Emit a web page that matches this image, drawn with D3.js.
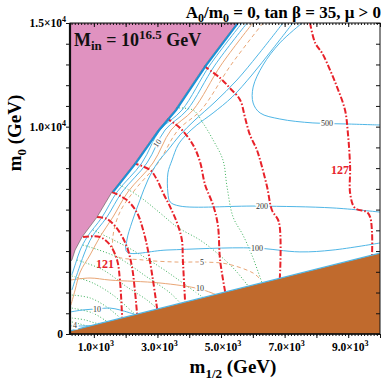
<!DOCTYPE html>
<html>
<head>
<meta charset="utf-8">
<script src="https://cdn.jsdelivr.net/npm/d3@7"></script>
<style>
body { margin: 0; background: #fff; }
svg { display: block; }
text { font-family: "Liberation Serif", "Times New Roman", serif; }
</style>
</head>
<body>
<svg id="chart" width="382" height="384"></svg>
<script>
// === Dane: (m1/2, m0) w GeV ===
const pinkEdge = [[5500,15000],[4500,12970],[3550,10800],[3020,9840],[2290,8250],[1570,6850],[1100,5640],[630,4680],[410,4050],[310,3570],[250,3470]];
const brownEdge = [[250,150],[10000,3900]];

// kontury mh (czerwone)
const mhA = [[660,4680],[1190,4680],[1510,4290],[1730,3570],[1820,2600],[1890,790]];
const mhB = [[1100,5640],[1410,5550],[1760,5020],[2040,4200],[2200,3230],[2290,2120],[2360,960]];
const mhC = [[1570,6850],[2040,6460],[2360,5840],[2550,5020],[2700,4050],[2860,2600],[2990,1210]];
const mhD = [[2230,8250],[2770,7910],[2990,7430],[3180,6800],[3400,6130],[3620,5350],[3770,4530],[3800,3570],[3870,1550]];
const mhE = [[3270,10420],[3710,9940],[4120,9120],[4340,8300],[4500,7190],[4750,6220],[4900,5260],[4970,3570],[5130,2030]];
const mhF = [[4460,12930],[4970,12350],[5280,11860],[5600,11290],[5750,10470],[5910,9600],[6130,8870],[6290,8050],[6450,7090],[6600,5980],[6820,5400],[6850,2700]];
const mhG = [[7800,15000],[7960,14040],[8180,13550],[8430,12730],[8650,11910],[8900,10800],[8990,9690],[9060,8050],[9060,6800],[9210,6080],[9590,5880],[9690,5640],[9750,4870],[9750,3810]];
const mhLabels = [["121",1350,3380],["127",8740,7910]];

// kontury niebieskie
const tau500 = [[7550,15000],[6850,14040],[6320,12970],[6010,11910],[6010,11140],[6230,10660],[6850,10370],[7890,10180],[8960,10130],[10000,10080]];
const tau200 = [[7260,15000],[6600,13700],[5970,12490],[5350,11430],[4750,10660],[4240,10080],[3900,9600],[3650,9120],[3460,8390],[3330,7770],[3330,6800],[3400,6370],[3710,6170],[6130,6170],[8520,6080],[10000,5880]];
const tau100 = [[6950,15000],[6160,13460],[5500,12250],[4810,11190],[4180,10320],[3710,9600],[3330,8870],[3020,8300],[2700,7430],[2450,6460],[2200,5400],[2040,4530],[2040,3960],[3300,4050],[6010,4150],[7480,3960],[8520,4050],[10000,4390]];
const tau10 = [[250,1060],[660,1160],[1100,1210],[1510,1250],[1820,1160],[2300,940]];
const tau4 = [[250,390],[720,390],[1100,430],[1290,550]];
const band1 = [[5660,15000],[4650,12970],[3770,10800],[3080,9840],[2510,8250],[1730,6850],[1260,5640],[790,4680],[570,4050],[440,3470],[310,2850]];
const band2 = [[5820,15000],[4810,12970],[3930,10800],[3240,9840],[2670,8250],[1890,6850],[1410,5640],[940,4680],[720,3960],[570,3330],[410,2600],[310,2120]];
const blueLabels = [["500",8330,10180],["200",6290,6170],["100",6130,4150],["10",1100,1210],["4",410,430]];

// kontury pomaranczowe
const orgSolid = [[6000,15000],[5000,12970],[4120,10800],[3430,9840],[2860,8250],[2070,6850],[1600,5640],[1190,4680],[880,3810],[570,2990],[410,2120],[280,1400]];
const orgTen = [[250,2600],[880,2700],[1510,2600],[3080,2460],[4340,2170],[4870,1880]];
const orgDash = [[6320,15000],[5310,12970],[4370,10800],[3650,9840],[3020,8250],[2290,6950],[1820,5880],[1600,4680],[1670,3810],[2550,3570],[3620,3470],[4400,3470],[5190,3380],[6010,2940],[6230,2650]];
const orangeLabels = [["5",4400,3470],["10",4340,2220]];

// kontury zielone (kropkowane)
const gA = [[310,580],[570,480],[820,370]];
const gB = [[310,770],[720,680],[1040,530],[1190,510]];
const gC = [[310,1250],[970,1010],[1410,600]];
const gD = [[310,1880],[880,1740],[1410,1300],[1840,760]];
const gE = [[310,2800],[970,2460],[1600,1880],[2300,940]];
const gF = [[470,3570],[1290,3090],[2040,2270],[2670,1640],[3000,1210]];
const gG = [[660,4290],[1730,3710],[2670,2750],[3400,1980],[3720,1490]];
const gH = [[970,5020],[2040,4200],[3080,3230],[3800,2460],[4440,1760]];
const gI = [[1820,7190],[2450,6610],[3080,5840],[3620,5160],[4340,4530],[4870,3910],[5440,3090],[5850,2320]];
const gJ = [[3490,10900],[4120,10800],[4430,10180],[4750,9360],[5060,8390],[5190,7090],[5380,5640],[5690,4770],[5970,3810],[6290,2460]];

// osie
const xTickVals = [1000,3000,5000,7000,9000];
const xTickText = ["1.0","3.0","5.0","7.0","9.0"];
const yTickVals = [0,10000,15000];
const yTickText = ["0","1.0","1.5"];

// === Rysowanie ===
const svg = d3.select("#chart");
const x = d3.scaleLinear().domain([250, 10000]).range([70, 380]);
const y = d3.scaleLinear().domain([0, 15000]).range([334, 23]);

svg.append("defs").append("clipPath").attr("id", "plot")
    .append("rect").attr("x", 70).attr("y", 23).attr("width", 310).attr("height", 311);

const plot = svg.append("g").attr("clip-path", "url(#plot)");
const smooth = d3.line().x(d => x(d[0])).y(d => y(d[1])).curve(d3.curveCatmullRom.alpha(0.5));
const straight = d3.line().x(d => x(d[0])).y(d => y(d[1]));

function draw(list, stroke, width, dash) {
    list.forEach(pts => {
        plot.append("path").attr("d", smooth(pts))
            .attr("fill", "none").attr("stroke", stroke)
            .attr("stroke-width", width).attr("stroke-dasharray", dash || null);
    });
}

draw([gA, gB, gC, gD, gE, gF, gG, gH, gI, gJ], "#3bb05a", 1, "1,2");
draw([orgSolid, orgTen], "#e9a676", 1);
draw([orgDash], "#e9a676", 1, "4,3");
draw([band1, band2, tau100, tau200, tau500, tau10, tau4], "#4fb6e6", 1);
draw([mhA, mhB, mhC, mhD, mhE, mhF, mhG], "#e8222a", 2, "6,2,1.5,2");

// obszary wykluczone
plot.append("path").attr("d", straight(pinkEdge.concat([[250,15000]])) + "Z")
    .attr("fill", "#e092c0").attr("stroke", "#555").attr("stroke-width", 0.6);
plot.append("path").attr("d", straight(brownEdge.concat([[10000,0],[250,0]])) + "Z")
    .attr("fill", "#c06a2d");
plot.append("path").attr("d", straight(brownEdge))
    .attr("fill", "none").attr("stroke", "#4fb6e6").attr("stroke-width", 1.2);
plot.append("path").attr("d", straight(pinkEdge.slice(0, 6)))
    .attr("transform", "translate(1.2,0)")
    .attr("fill", "none").attr("stroke", "#1b8fd6").attr("stroke-width", 2);

// etykiety konturow
function label(txt, px, py, color, size, weight) {
    return plot.append("text").attr("x", x(px)).attr("y", y(py) + size * 0.35)
        .attr("text-anchor", "middle").attr("font-size", size)
        .attr("font-weight", weight).attr("fill", color)
        .attr("stroke", "#fff").attr("stroke-width", 3).attr("paint-order", "stroke")
        .text(txt);
}
blueLabels.forEach(d => label(d[0], d[1], d[2], "#333", 8, "normal"));
orangeLabels.forEach(d => label(d[0], d[1], d[2], "#333", 8, "normal"));
label("10", 2990, 9210, "#333", 8, "normal")
    .attr("transform", `rotate(-55,${x(2990)},${y(9210)})`);
mhLabels.forEach(d => label(d[0], d[1], d[2], "#e8222a", 12, "bold").attr("stroke-width", 0));

// M_in
const mIn = svg.append("text").attr("x", 74).attr("y", 46)
    .attr("font-size", 18).attr("font-weight", "bold").attr("fill", "#111");
mIn.append("tspan").text("M");
mIn.append("tspan").attr("dy", 4).attr("font-size", 13).text("in");
mIn.append("tspan").attr("dy", -4).text(" = 10");
mIn.append("tspan").attr("dy", -7).attr("font-size", 13).text("16.5");
mIn.append("tspan").attr("dy", 7).text(" GeV");

// osie i ramka
const axes = svg.append("g");
const minorX = d3.range(300, 10001, 100);
const majorX = d3.range(1000, 10001, 1000);
const ticksY = d3.range(0, 15001, 1000);

function ax(gen, tr) {
    axes.append("g").attr("transform", tr).call(gen.tickFormat(""))
        .call(g => g.select(".domain").remove())
        .selectAll("line").attr("stroke", "#111");
}
ax(d3.axisBottom(x).tickValues(minorX).tickSize(2), "translate(0,334)");
ax(d3.axisBottom(x).tickValues(majorX).tickSize(4), "translate(0,334)");
ax(d3.axisTop(x).tickValues(minorX).tickSize(-2), "translate(0,23)");
ax(d3.axisTop(x).tickValues(majorX).tickSize(-4), "translate(0,23)");
ax(d3.axisLeft(y).tickValues(ticksY).tickSize(4), "translate(70,0)");
ax(d3.axisRight(y).tickValues(ticksY).tickSize(-4), "translate(380,0)");

axes.append("rect").attr("x", 70).attr("y", 23).attr("width", 310).attr("height", 311)
    .attr("fill", "none").attr("stroke", "#111").attr("stroke-width", 1);
axes.append("line").attr("x1", 70).attr("x2", 70).attr("y1", 23).attr("y2", 335)
    .attr("stroke", "#111").attr("stroke-width", 2.2);
axes.append("line").attr("x1", 69).attr("x2", 380).attr("y1", 334).attr("y2", 334)
    .attr("stroke", "#111").attr("stroke-width", 1.6);

xTickVals.forEach((v, i) => {
    const t = axes.append("text").attr("x", x(v) + 2).attr("y", 351)
        .attr("text-anchor", "middle").attr("font-size", 11.5).attr("font-weight", "bold");
    t.append("tspan").text(xTickText[i] + "×10");
    t.append("tspan").attr("dy", -5).attr("font-size", 8).text("3");
});
yTickVals.forEach((v, i) => {
    const t = axes.append("text").attr("x", v === 0 ? 63 : 66).attr("y", y(v) + 4)
        .attr("text-anchor", "end").attr("font-size", 11.5).attr("font-weight", "bold");
    if (v === 0) { t.text("0"); return; }
    t.append("tspan").text(yTickText[i] + "×10");
    t.append("tspan").attr("dy", -5).attr("font-size", 8).text("4");
});

// tytuly
const title = svg.append("text").attr("x", 381).attr("y", 18).attr("text-anchor", "end")
    .attr("font-size", 17).attr("font-weight", "bold");
title.append("tspan").text("A");
title.append("tspan").attr("dy", 4).attr("font-size", 12).text("0");
title.append("tspan").attr("dy", -4).text("/m");
title.append("tspan").attr("dy", 4).attr("font-size", 12).text("0");
title.append("tspan").attr("dy", -4).text(" = 0, tan β = 35, μ > 0");

const xt = svg.append("text").attr("x", 233).attr("y", 373).attr("text-anchor", "middle")
    .attr("font-size", 19).attr("font-weight", "bold");
xt.append("tspan").text("m");
xt.append("tspan").attr("dy", 5).attr("font-size", 13).text("1/2");
xt.append("tspan").attr("dy", -5).text(" (GeV)");

const yt = svg.append("text").attr("transform", "translate(21,133) rotate(-90)")
    .attr("text-anchor", "middle").attr("font-size", 19).attr("font-weight", "bold");
yt.append("tspan").text("m");
yt.append("tspan").attr("dy", 5).attr("font-size", 13).text("0");
yt.append("tspan").attr("dy", -5).text(" (GeV)");
</script>
</body>
</html>
